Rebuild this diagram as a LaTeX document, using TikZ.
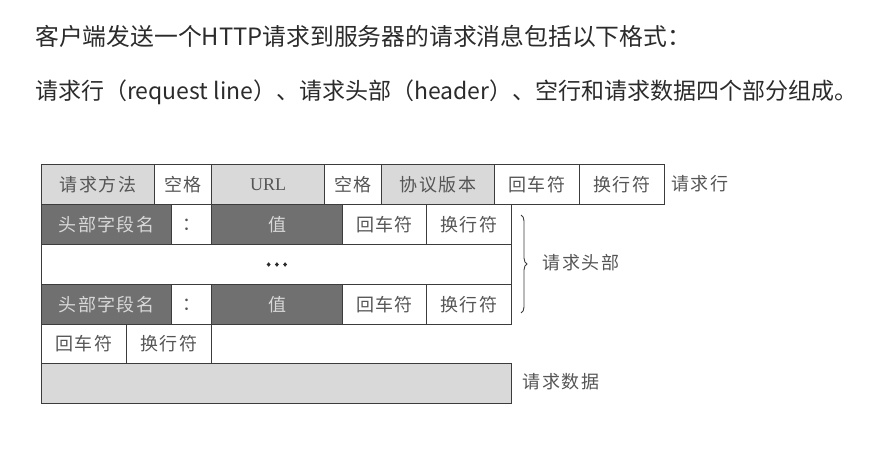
\documentclass[tikz,border=0pt]{standalone}
\usepackage{fontspec}
\setmainfont{Noto Sans CJK SC}
\newfontfamily\cellfont{Noto Sans CJK SC}[LetterSpace=8]
\newfontfamily\dotfont{Noto Sans CJK SC}[FakeBold=4]
\newfontfamily\seriffont{Liberation Serif}
\usetikzlibrary{decorations.pathreplacing}
\definecolor{lg}{HTML}{D9D9D9}
\definecolor{dg}{HTML}{707070}
\definecolor{bd}{HTML}{3C3C3C}
\definecolor{tx}{HTML}{555555}
\definecolor{tl}{HTML}{D8D8D8}
\definecolor{hd}{HTML}{2B2B2B}
\begin{document}
\begin{tikzpicture}[x=1pt,y=-1pt,
  cell/.style={draw=bd, line width=1pt, minimum height=40pt, inner sep=0pt, anchor=north west, text=tx, font=\cellfont\fontsize{18}{18}\selectfont},
  light/.style={cell, fill=lg},
  dark/.style={cell, fill=dg, text=tl},
  plain/.style={cell, fill=white},
  lbl/.style={text=tx, font=\cellfont\fontsize{18}{18}\selectfont, inner sep=0pt},
  head/.style={anchor=west, text=hd, inner sep=0pt}]
\useasboundingbox (0,0) rectangle (893,449);
% header text
\node[head, font=\fontsize{23.8}{23.8}\selectfont] (t1) at (35,36) {客户端发送一个HTTP请求到服务器的请求消息包括以下格式：};
\node[head, font=\fontsize{23}{23}\selectfont] (t2) at (35,92) {请求行（request line）、请求头部（header）、空行和请求数据四个部分组成。};
% row 1: request line
\node[light, minimum width=113pt] (a1) at (41,164) {请求方法};
\node[plain, minimum width=57pt]  (a2) at (154,164) {空格};
\node[light, minimum width=113pt] (a3) at (211,164) {\seriffont URL};
\node[plain, minimum width=57pt]  (a4) at (324,164) {空格};
\node[light, minimum width=113pt] (a5) at (381,164) {协议版本};
\node[plain, minimum width=85pt]  (a6) at (494,164) {回车符};
\node[plain, minimum width=85pt]  (a7) at (579,164) {换行符};
\node[lbl, anchor=west] (la) at (671,184) {请求行};
% row 2: header line
\node[dark, minimum width=130pt]  (b1) at (41,204) {头部字段名};
\node[plain, minimum width=40pt]  (b2) at (171,204) {：};
\node[dark, minimum width=131pt]  (b3) at (211,204) {值};
\node[plain, minimum width=84pt]  (b4) at (342,204) {回车符};
\node[plain, minimum width=85pt]  (b5) at (426,204) {换行符};
% row 3: dots
\node[plain, minimum width=470pt, font=\dotfont\fontsize{22}{22}\selectfont, text=hd] (c1) at (41,244) {…};
% row 4: header line
\node[dark, minimum width=130pt]  (d1) at (41,284) {头部字段名};
\node[plain, minimum width=40pt]  (d2) at (171,284) {：};
\node[dark, minimum width=131pt]  (d3) at (211,284) {值};
\node[plain, minimum width=84pt]  (d4) at (342,284) {回车符};
\node[plain, minimum width=85pt]  (d5) at (426,284) {换行符};
% row 5: blank line
\node[plain, minimum width=85pt, minimum height=39pt] (e1) at (41,324) {回车符};
\node[plain, minimum width=85pt, minimum height=39pt] (e2) at (126,324) {换行符};
% row 6: data
\node[light, minimum width=470pt] (f1) at (41,363) {};
\node[lbl] (lf) at (561,382) {请求数据};
% brace
\coordinate (bt) at (521,215);
\coordinate (bb) at (521,313);
\draw[bd, line width=0.9pt, decorate, decoration={brace, amplitude=6pt}] (bt) -- (bb);
\node[lbl] (lh) at (581,263) {请求头部};
\end{tikzpicture}
\end{document}
